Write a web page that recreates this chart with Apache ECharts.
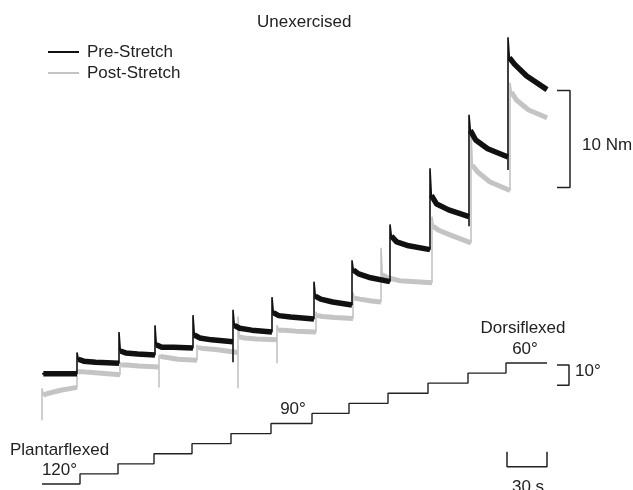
<!DOCTYPE html>
<html>
<head>
<meta charset="utf-8">
<script src="https://cdn.jsdelivr.net/npm/echarts@6/dist/echarts.min.js"></script>
<style>
html,body{margin:0;padding:0;background:#fff;}
#chart{width:633px;height:490px;}
</style>
</head>
<body>
<div id="chart"></div>
<script>
// ---- Data (time in s, torque in Nm, angle in degrees) ----
const endTime = 378.75;
// Pre-Stretch torque trace, one entry per step
const preTimes = [0, 26.25, 57.75, 84.75, 113.25, 143.25, 172.5, 204, 232.5, 261, 291, 320.25, 349.5];
const preDip   = [null, null, null, null, null, 3.9, null, null, null, null, null, 17.9, 23.7];
const prePeak  = [2.7, 4.9, 7.0, 7.7, 8.75, 9.3, 10.6, 12.2, 14.4, 18.1, 23.9, 29.4, 37.4];
const preAfter = [2.7, 4.2, 5.05, 5.7, 6.7, 7.7, 9.0, 10.7, 13.4, 16.9, 21.1, 27.8, 35.3];
const preMid1  = [2.7, 4.0, 4.85, 5.45, 6.4, 7.4, 8.7, 10.4, 13.0, 16.3, 20.2, 26.8, 34.6];
const preMid2  = [2.7, 3.9, 4.75, 5.45, 6.2, 7.2, 8.55, 10.1, 12.6, 15.9, 19.6, 25.9, 33.4];
const preEnd   = [2.7, 3.8, 4.65, 5.35, 6.0, 7.0, 8.35, 9.8, 12.2, 15.5, 18.9, 25.05, 32.0];
// Post-Stretch torque trace
const postTimes = [0, 26.25, 58.5, 87.75, 116.25, 147, 176.25, 205.5, 233.25, 254.25, 292.5, 321.75, 351];
const postDip   = [-2.1, null, null, 1.3, null, 1.2, 3.8, null, null, null, null, null, null];
const postPeak  = [1.2, 3.1, 3.9, 4.6, 5.7, 8.6, 7.7, 9.1, 11.1, 15.7, 18.9, 27.8, 32.7];
const postAfter = [0.5, 2.9, 3.6, 4.5, 5.4, 6.5, 7.2, 8.7, 10.5, 12.9, 17.9, 24.2, 31.75];
const postMid1  = [0.7, 2.9, 3.6, 4.4, 5.3, 6.4, 7.2, 8.6, 10.4, 12.6, 17.5, 23.5, 30.9];
const postMid2  = [1.0, 2.8, 3.5, 4.2, 5.2, 6.3, 7.1, 8.5, 10.2, 12.3, 17.0, 22.5, 29.9];
const postEnd   = [1.3, 2.6, 3.4, 4.1, 4.9, 6.2, 7.0, 8.4, 10.1, 12.1, 16.2, 21.6, 29.1];
// Ankle angle staircase
const angleTimes = [0, 28.5, 57, 84, 112.5, 141.75, 171.75, 202.5, 230.25, 259.5, 289.5, 319.5, 348];
const angles     = [120, 115, 110, 105, 100, 95, 90, 85, 80, 75, 70, 65, 60];
// Scale bars
const torqueBar = [21.9, 31.9];   // 10 Nm
const angleBar  = [61, 71];       // 10 deg
const timeBar   = [348.75, 378.75]; // 30 s

// ---- Layout / style constants ----
const FONT = '"Liberation Sans", Arial, Helvetica, sans-serif';
const TXT = '#222';
const PRE_COLOR = '#111';
const POST_COLOR = '#c4c4c4';
const X_MAX = 420, GRID_W = 560;
const BAR_X = 396, BAR_TICK_X = 386.25, ABAR_X = 395.25;
const TBAR_Y = 111.5, TBAR_TICK_Y = 104;

function buildTrace(times, dips, peaks, after, m1, m2, ends) {
  const full = [], plateau = [];
  for (let i = 0; i < times.length; i++) {
    const t = times[i];
    const next = i < times.length - 1 ? times[i + 1] : endTime;
    if (i > 0) full.push([t, ends[i - 1]]);
    if (dips[i] != null) full.push([t, dips[i]]);
    full.push([t, peaks[i]]);
    full.push([t + 1, after[i]], [t + 5, m1[i]], [t + 14, m2[i]], [next, ends[i]]);
    plateau.push([t + 1, after[i]], [t + 5, m1[i]], [t + 14, m2[i]], [next, ends[i]], [next, null]);
  }
  return { full, plateau };
}
const pre = buildTrace(preTimes, preDip, prePeak, preAfter, preMid1, preMid2, preEnd);
const post = buildTrace(postTimes, postDip, postPeak, postAfter, postMid1, postMid2, postEnd);

const angleLine = [];
for (let i = 0; i < angleTimes.length; i++) {
  if (i > 0) angleLine.push([angleTimes[i], angles[i - 1]]);
  angleLine.push([angleTimes[i], angles[i]]);
}
angleLine.push([endTime, angles[angles.length - 1]]);

const chart = echarts.init(document.getElementById('chart'), null, { renderer: 'canvas' });
const txt = (text, x, y, align) => ({
  type: 'text', x: x, y: y, silent: true,
  style: { text: text, font: '17px ' + FONT, fill: TXT,
    align: align || 'center', textAlign: align || 'center',
    verticalAlign: 'middle', textVerticalAlign: 'middle' }
});
const plain = { showSymbol: false, symbol: 'none', clip: false, silent: true };

chart.setOption({
  animation: false,
  backgroundColor: '#fff',
  title: {
    text: 'Unexercised', left: 257, top: 13.5, padding: 0,
    textStyle: { fontSize: 17, fontWeight: 'normal', color: TXT, fontFamily: FONT }
  },
  legend: {
    data: ['Pre-Stretch', 'Post-Stretch'], orient: 'vertical', left: 48, top: 41.5,
    icon: 'rect', itemWidth: 31, itemHeight: 2, itemGap: 0, padding: 0, selectedMode: false,
    textStyle: { fontSize: 17, lineHeight: 21, color: TXT, fontFamily: FONT, padding: [0, 0, 0, 3] }
  },
  grid: [
    { left: 42, width: GRID_W, top: 12, height: 388, show: false },
    { left: 42, width: GRID_W, top: 363, height: 121, show: false }
  ],
  xAxis: [
    { type: 'value', gridIndex: 0, min: 0, max: X_MAX, show: false },
    { type: 'value', gridIndex: 1, min: 0, max: X_MAX, show: false }
  ],
  yAxis: [
    { type: 'value', gridIndex: 0, min: 0, max: 40, show: false },
    { type: 'value', gridIndex: 1, min: 60, max: 120, inverse: true, show: false }
  ],
  series: [
    Object.assign({ name: 'Post-Stretch band', type: 'line', xAxisIndex: 0, yAxisIndex: 0, data: post.plateau,
      connectNulls: false, lineStyle: { color: POST_COLOR, width: 5 }, z: 1 }, plain),
    Object.assign({ name: 'Post-Stretch', type: 'line', xAxisIndex: 0, yAxisIndex: 0, data: post.full,
      color: POST_COLOR, lineStyle: { color: POST_COLOR, width: 1.6 }, z: 2 }, plain),
    Object.assign({ name: 'Pre-Stretch band', type: 'line', xAxisIndex: 0, yAxisIndex: 0, data: pre.plateau,
      connectNulls: false, lineStyle: { color: PRE_COLOR, width: 5.5 }, z: 3 }, plain),
    Object.assign({ name: 'Pre-Stretch', type: 'line', xAxisIndex: 0, yAxisIndex: 0, data: pre.full,
      color: PRE_COLOR, lineStyle: { color: PRE_COLOR, width: 1.6 }, z: 4 }, plain),
    Object.assign({ name: 'Angle', type: 'line', xAxisIndex: 1, yAxisIndex: 1, data: angleLine,
      lineStyle: { color: '#222', width: 1.4 }, z: 5 }, plain),
    Object.assign({ name: '10 Nm bar', type: 'line', xAxisIndex: 0, yAxisIndex: 0,
      data: [[BAR_TICK_X, torqueBar[1]], [BAR_X, torqueBar[1]], [BAR_X, torqueBar[0]], [BAR_TICK_X, torqueBar[0]]],
      lineStyle: { color: '#222', width: 1.5 }, z: 5 }, plain),
    Object.assign({ name: '10 deg bar', type: 'line', xAxisIndex: 1, yAxisIndex: 1,
      data: [[BAR_TICK_X, angleBar[0]], [ABAR_X, angleBar[0]], [ABAR_X, angleBar[1]], [BAR_TICK_X, angleBar[1]]],
      lineStyle: { color: '#222', width: 1.5 }, z: 5 }, plain),
    Object.assign({ name: '30 s bar', type: 'line', xAxisIndex: 1, yAxisIndex: 1,
      data: [[timeBar[0], TBAR_TICK_Y], [timeBar[0], TBAR_Y], [timeBar[1], TBAR_Y], [timeBar[1], TBAR_TICK_Y]],
      lineStyle: { color: '#222', width: 1.5 }, z: 5 }, plain)
  ],
  graphic: [
    txt('10 Nm', 582, 145.5, 'left'),
    txt('Dorsiflexed', 523, 328),
    txt('60°', 525, 349),
    txt('10°', 575, 371, 'left'),
    txt('90°', 293, 409),
    txt('Plantarflexed', 59.5, 450),
    txt('120°', 59.5, 470),
    txt('30 s', 528, 487)
  ]
});
</script>
</body>
</html>
